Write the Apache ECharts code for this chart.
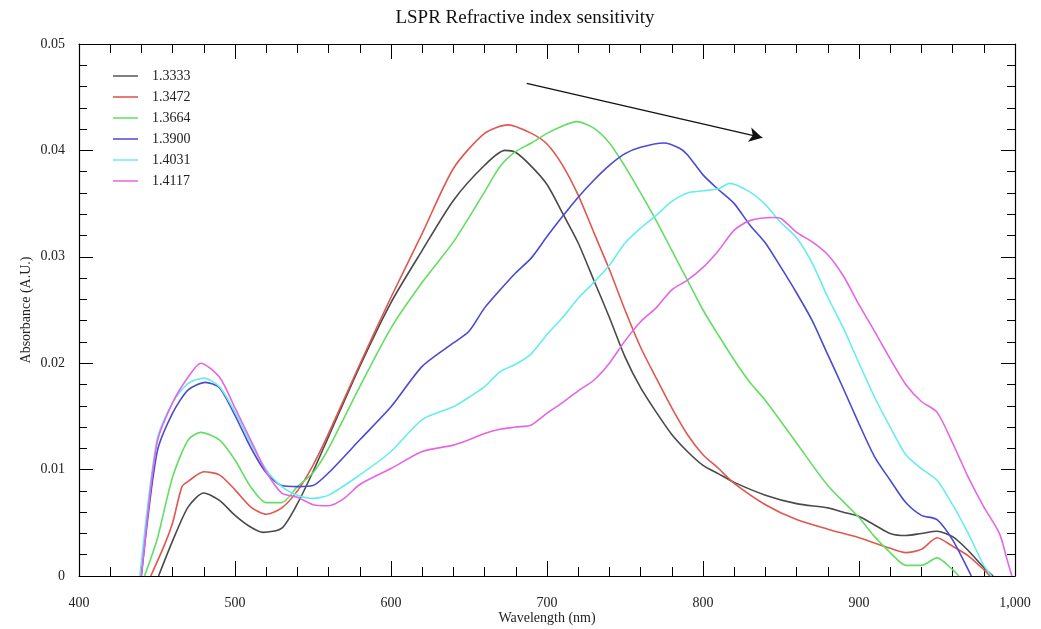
<!DOCTYPE html>
<html>
<head>
<meta charset="utf-8">
<script src="https://cdn.jsdelivr.net/npm/echarts@6/dist/echarts.min.js"></script>
<style>html,body{margin:0;padding:0;background:#fff;}#c{width:1041px;height:629px;}</style>
</head>
<body>
<div id="c"></div>
<script>
const seriesNames = ['1.3333', '1.3472', '1.3664', '1.3900', '1.4031', '1.4117'];
const seriesColors = ['#4a4a4a', '#e0574f', '#63dd63', '#4a4ad2', '#66eded', '#e466e4'];
const legendColors = ['#808080', '#e87a74', '#86e886', '#7676de', '#8ef2f2', '#ec8cec'];
const xTicks = [400, 500, 600, 700, 800, 900, 1000];
const yTicks = [0, 0.01, 0.02, 0.03, 0.04, 0.05];

const s13333 = [[451,0],[460,0.0033],[470,0.0065],[480,0.0078],[490,0.0071],[500,0.0057],[510,0.0046],[518,0.0041],[530,0.0045],[540,0.0068],[550,0.0098],[560,0.0131],[580,0.0197],[600,0.0257],[620,0.0306],[640,0.0353],[660,0.0386],[673,0.0400],[680,0.0398],[690,0.0385],[700,0.0368],[710,0.0341],[720,0.0313],[730,0.0278],[740,0.0243],[750,0.0206],[760,0.0177],[770,0.0154],[780,0.0133],[790,0.0117],[800,0.0104],[810,0.0096],[820,0.0088],[840,0.0076],[860,0.0068],[880,0.0064],[890,0.0060],[900,0.0056],[910,0.0048],[920,0.0040],[930,0.0038],[940,0.0040],[950,0.0042],[960,0.0037],[970,0.0024],[980,0.0008],[986,0]];
const s13472 = [[446,0],[455,0.0030],[460,0.0050],[466,0.0084],[470,0.0089],[480,0.0098],[490,0.0095],[500,0.0081],[510,0.0065],[520,0.0058],[530,0.0064],[540,0.0080],[550,0.0104],[560,0.0134],[580,0.0199],[600,0.0262],[620,0.0322],[640,0.0383],[660,0.0416],[675,0.0424],[690,0.0416],[700,0.0406],[710,0.0386],[720,0.0358],[730,0.0323],[740,0.0288],[750,0.0250],[760,0.0215],[770,0.0186],[780,0.0158],[790,0.0133],[800,0.0114],[810,0.0101],[820,0.0087],[840,0.0067],[860,0.0053],[880,0.0044],[900,0.0036],[920,0.0026],[930,0.0022],[940,0.0025],[950,0.0036],[960,0.0028],[970,0.0019],[980,0.0006],[984,0]];
const s13664 = [[442,0],[450,0.0034],[460,0.0093],[470,0.0128],[478,0.0135],[490,0.0128],[500,0.0109],[510,0.0084],[520,0.0069],[530,0.0069],[540,0.0084],[550,0.0097],[560,0.0120],[580,0.0178],[600,0.0233],[620,0.0276],[640,0.0314],[660,0.0361],[670,0.0385],[680,0.0399],[690,0.0407],[700,0.0416],[710,0.0423],[719,0.0427],[730,0.0421],[740,0.0407],[750,0.0385],[760,0.0360],[770,0.0334],[780,0.0306],[790,0.0278],[800,0.0250],[810,0.0226],[820,0.0203],[830,0.0182],[840,0.0165],[860,0.0125],[880,0.0085],[900,0.0055],[910,0.0037],[920,0.0022],[930,0.0010],[940,0.0010],[950,0.0017],[960,0.0006],[964,0]];
const s13900 = [[440,0],[450,0.0116],[460,0.0153],[470,0.0175],[481,0.0182],[490,0.0177],[500,0.0151],[510,0.0121],[520,0.0097],[530,0.0085],[540,0.0084],[550,0.0085],[560,0.0097],[580,0.0128],[600,0.0159],[620,0.0197],[640,0.0219],[650,0.0230],[660,0.0252],[670,0.0269],[680,0.0285],[690,0.0299],[700,0.0319],[710,0.0338],[720,0.0356],[730,0.0372],[740,0.0386],[750,0.0397],[760,0.0403],[775,0.0407],[785,0.0402],[790,0.0396],[800,0.0377],[810,0.0363],[820,0.0350],[830,0.0330],[840,0.0313],[850,0.0290],[860,0.0266],[870,0.0240],[880,0.0208],[890,0.0176],[900,0.0143],[910,0.0112],[920,0.0090],[930,0.0069],[940,0.0057],[950,0.0053],[960,0.0034],[970,0.0006],[972,0]];
const s14031 = [[439,0],[450,0.0128],[460,0.0163],[470,0.0181],[480,0.0186],[490,0.0178],[500,0.0154],[510,0.0125],[520,0.0100],[530,0.0084],[540,0.0076],[550,0.0073],[560,0.0076],[580,0.0095],[600,0.0117],[620,0.0147],[640,0.0159],[650,0.0168],[660,0.0178],[670,0.0192],[680,0.0199],[690,0.0209],[700,0.0227],[710,0.0243],[720,0.0261],[730,0.0276],[740,0.0292],[750,0.0313],[760,0.0327],[770,0.0339],[780,0.0352],[790,0.0360],[800,0.0362],[810,0.0364],[817,0.0369],[830,0.0361],[840,0.0349],[850,0.0332],[860,0.0318],[870,0.0294],[880,0.0262],[890,0.0233],[900,0.0200],[910,0.0168],[920,0.0140],[930,0.0114],[940,0.0101],[950,0.0090],[960,0.0067],[970,0.0040],[980,0.0010],[985,0]];
const s14117 = [[440,0],[450,0.0125],[460,0.0163],[470,0.0187],[478,0.0200],[490,0.0187],[500,0.0158],[510,0.0128],[520,0.0098],[530,0.0078],[540,0.0074],[550,0.0067],[560,0.0066],[570,0.0073],[580,0.0086],[600,0.0101],[620,0.0117],[640,0.0123],[650,0.0128],[660,0.0134],[670,0.0138],[680,0.0140],[690,0.0142],[700,0.0153],[710,0.0163],[720,0.0174],[730,0.0184],[740,0.0200],[750,0.0221],[760,0.0239],[770,0.0252],[780,0.0269],[790,0.0278],[800,0.0290],[810,0.0306],[820,0.0325],[830,0.0334],[845,0.0337],[850,0.0336],[860,0.0323],[870,0.0314],[880,0.0302],[890,0.0282],[900,0.0255],[910,0.0230],[920,0.0204],[930,0.0180],[940,0.0164],[950,0.0154],[960,0.0125],[970,0.0093],[980,0.0065],[990,0.0040],[995,0.0015],[998,0]];
const seriesData = [s13333, s13472, s13664, s13900, s14031, s14117];
const arrowStart = [687, 0.0463];
const arrowEnd = [838, 0.0412];

const serif = '"Liberation Serif", "DejaVu Serif", serif';
const chart = echarts.init(document.getElementById('c'), null, {renderer: 'canvas'});

const baseX = {
  type: 'value', min: xTicks[0], max: xTicks[xTicks.length - 1], interval: 100,
  axisLine: {show: true, onZero: false, lineStyle: {color: '#000', width: 1.2}},
  axisTick: {show: true, inside: true, length: 15, lineStyle: {color: '#000', width: 1}},
  minorTick: {show: true, splitNumber: 5, length: 9, lineStyle: {color: '#000', width: 1}},
  splitLine: {show: false}
};
const baseY = {
  type: 'value', min: yTicks[0], max: yTicks[yTicks.length - 1], interval: 0.01,
  axisLine: {show: true, onZero: false, lineStyle: {color: '#000', width: 1.2}},
  axisTick: {show: true, inside: true, length: 14, lineStyle: {color: '#000', width: 1}},
  minorTick: {show: true, splitNumber: 5, length: 8, lineStyle: {color: '#000', width: 1}},
  splitLine: {show: false}
};

const series = seriesNames.map((n, i) => ({
  name: n, type: 'line', data: seriesData[i], xAxisIndex: 0, yAxisIndex: 0,
  symbol: 'none', smooth: 0.25, clip: true,
  lineStyle: {color: seriesColors[i], width: 1.6},
  itemStyle: {color: seriesColors[i]},
  z: 3
}));
series[0].markLine = {
  silent: true, symbol: ['none', 'arrow'], symbolSize: [11, 13],
  label: {show: false},
  lineStyle: {color: '#111', width: 1.3, type: 'solid'},
  data: [[{coord: arrowStart}, {coord: arrowEnd}]]
};

chart.setOption({
  animation: false,
  backgroundColor: '#fff',
  title: {
    text: 'LSPR Refractive index sensitivity', left: 520, top: 4, textAlign: 'center',
    textStyle: {fontFamily: serif, fontSize: 19, fontWeight: 'normal', color: '#111'}
  },
  grid: {left: 79, right: 26, top: 44, bottom: 53, containLabel: false, outerBoundsMode: 'none'},
  legend: {
    orient: 'vertical', left: 108, top: 64, itemWidth: 25, itemHeight: 14, itemGap: 7,
    data: seriesNames.map((n, i) => ({
      name: n,
      icon: 'path://M0,6 L25,6 L25,8 L0,8 Z',
      itemStyle: {color: legendColors[i]}
    })),
    textStyle: {fontFamily: serif, fontSize: 14, color: '#222', padding: [0, 0, 0, 9]}
  },
  xAxis: [
    Object.assign({}, baseX, {
      position: 'bottom',
      name: 'Wavelength (nm)', nameLocation: 'middle', nameGap: 35, nameMoveOverlap: false,
      nameTextStyle: {fontFamily: serif, fontSize: 14, color: '#222'},
      axisLabel: {fontFamily: serif, fontSize: 14, color: '#222', margin: 20,
        formatter: v => v.toLocaleString('en-US')}
    }),
    Object.assign({}, baseX, {position: 'top', axisLabel: {show: false}})
  ],
  yAxis: [
    Object.assign({}, baseY, {
      position: 'left',
      name: 'Absorbance (A.U.)', nameLocation: 'middle', nameGap: 46, nameMoveOverlap: false,
      nameTextStyle: {fontFamily: serif, fontSize: 14, color: '#222'},
      axisLabel: {fontFamily: serif, fontSize: 14, color: '#222', margin: 14,
        formatter: v => (v === 0 ? '0' : v.toFixed(2))}
    }),
    Object.assign({}, baseY, {position: 'right', axisLabel: {show: false}})
  ],
  series: series
});
</script>
</body>
</html>
